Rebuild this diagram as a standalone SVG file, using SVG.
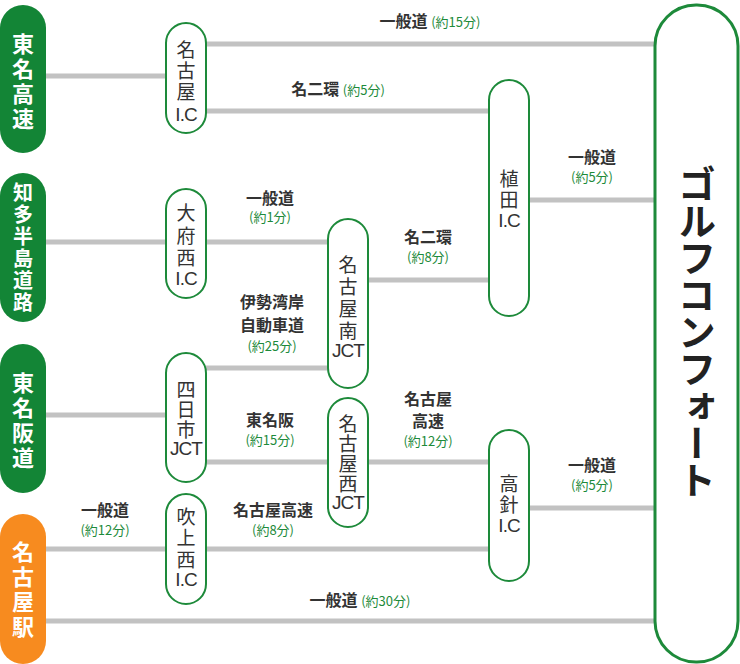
<svg xmlns="http://www.w3.org/2000/svg" width="740" height="664" viewBox="0 0 740 664">
<style>
.ln{stroke:#c2c2c2;stroke-width:5;fill:none}
.st{fill:#138536}
.or{fill:#f78b1f}
.lt{fill:#fff;font:bold 22px "Noto Sans CJK JP","Liberation Sans",sans-serif;text-anchor:middle}
.lt2{fill:#fff;font:bold 20px "Noto Sans CJK JP","Liberation Sans",sans-serif;text-anchor:middle}
.nd{fill:#fff;stroke:#1d8a3a;stroke-width:2}
.nt{fill:#333;font:19px "Noto Sans CJK JP","Liberation Sans",sans-serif;text-anchor:middle}
.ic{fill:#333;font:19px "Liberation Sans",sans-serif;text-anchor:middle;letter-spacing:-1px}
.lb{fill:#333;font:bold 16px "Noto Sans CJK JP",sans-serif;text-anchor:middle}
.tm{fill:#1d8a3a;font:13px "Noto Sans CJK JP",sans-serif;text-anchor:middle}
</style>
<rect width="740" height="664" fill="#fff"/>
<g id="connectors">
<path class="ln" d="M45 76H166M206 44H655M206 111H489M529 200H655M45 242H166M206 242H328M368 280H489M206 368H328M45 415H166M206 462H328M368 462H489M529 508H655M45 549H166M206 549H489M45 621H655"/>
</g>
<g id="labels">
<text class="lb" x="430" y="27">一般道 <tspan class="tm">(約15分)</tspan></text>
<text class="lb" x="338" y="95">名二環 <tspan class="tm">(約5分)</tspan></text>
<text class="lb" x="592" y="163">一般道</text><text class="tm" x="592" y="182">(約5分)</text>
<text class="lb" x="270" y="204">一般道</text><text class="tm" x="270" y="222">(約1分)</text>
<text class="lb" x="428" y="243">名二環</text><text class="tm" x="428" y="262">(約8分)</text>
<text class="lb" x="272" y="308">伊勢湾岸</text><text class="lb" x="272" y="331">自動車道</text><text class="tm" x="272" y="351">(約25分)</text>
<text class="lb" x="270" y="426">東名阪</text><text class="tm" x="270" y="445">(約15分)</text>
<text class="lb" x="428" y="405">名古屋</text><text class="lb" x="428" y="427">高速</text><text class="tm" x="428" y="446">(約12分)</text>
<text class="lb" x="592" y="471">一般道</text><text class="tm" x="592" y="490">(約5分)</text>
<text class="lb" x="105" y="516">一般道</text><text class="tm" x="105" y="535">(約12分)</text>
<text class="lb" x="273" y="516">名古屋高速</text><text class="tm" x="273" y="535">(約8分)</text>
<text class="lb" x="360" y="606">一般道 <tspan class="tm">(約30分)</tspan></text>
</g>
<g id="tomei"><rect class="st" x="0" y="5" width="46" height="148" rx="23"/>
<text class="lt" x="23" y="52">東</text><text class="lt" x="23" y="77">名</text><text class="lt" x="23" y="102">高</text><text class="lt" x="23" y="127">速</text></g>
<g id="chita"><rect class="st" x="0" y="173" width="46" height="149" rx="23"/>
<text class="lt2" x="23" y="200">知</text><text class="lt2" x="23" y="222">多</text><text class="lt2" x="23" y="244">半</text><text class="lt2" x="23" y="266">島</text><text class="lt2" x="23" y="288">道</text><text class="lt2" x="23" y="310">路</text></g>
<g id="tomeihan"><rect class="st" x="0" y="344" width="46" height="149" rx="23"/>
<text class="lt" x="23" y="391">東</text><text class="lt" x="23" y="416">名</text><text class="lt" x="23" y="441">阪</text><text class="lt" x="23" y="466">道</text></g>
<g id="nagoyaeki"><rect class="or" x="0" y="514" width="46" height="150" rx="23"/>
<text class="lt" x="23" y="560">名</text><text class="lt" x="23" y="585">古</text><text class="lt" x="23" y="610">屋</text><text class="lt" x="23" y="635">駅</text></g>
<g id="nagoya-ic"><rect class="nd" x="166" y="23" width="40" height="110" rx="20"/>
<text class="nt" x="186" y="57">名</text><text class="nt" x="186" y="78">古</text><text class="nt" x="186" y="99">屋</text><text class="ic" x="186" y="121">I.C</text></g>
<g id="obunishi-ic"><rect class="nd" x="166" y="189" width="40" height="109" rx="20"/>
<text class="nt" x="186" y="220">大</text><text class="nt" x="186" y="243">府</text><text class="nt" x="186" y="265">西</text><text class="ic" x="186" y="285">I.C</text></g>
<g id="nagoyaminami-jct"><rect class="nd" x="328" y="219" width="40" height="169" rx="20"/>
<text class="nt" x="348" y="272">名</text><text class="nt" x="348" y="294">古</text><text class="nt" x="348" y="316">屋</text><text class="nt" x="348" y="338">南</text><text class="ic" x="348" y="357">JCT</text></g>
<g id="yokkaichi-jct"><rect class="nd" x="166" y="353" width="40" height="129" rx="20"/>
<text class="nt" x="186" y="397">四</text><text class="nt" x="186" y="417">日</text><text class="nt" x="186" y="437">市</text><text class="ic" x="186" y="455">JCT</text></g>
<g id="nagoyanishi-jct"><rect class="nd" x="328" y="398" width="40" height="129" rx="20"/>
<text class="nt" x="348" y="431">名</text><text class="nt" x="348" y="451">古</text><text class="nt" x="348" y="471">屋</text><text class="nt" x="348" y="491">西</text><text class="ic" x="348" y="509">JCT</text></g>
<g id="fukiagenishi-ic"><rect class="nd" x="166" y="494" width="40" height="110" rx="20"/>
<text class="nt" x="186" y="524">吹</text><text class="nt" x="186" y="545">上</text><text class="nt" x="186" y="567">西</text><text class="ic" x="186" y="586">I.C</text></g>
<g id="ueda-ic"><rect class="nd" x="489" y="80" width="40" height="236" rx="20"/>
<text class="nt" x="509" y="186">植</text><text class="nt" x="509" y="207">田</text><text class="ic" x="509" y="227">I.C</text></g>
<g id="takabari-ic"><rect class="nd" x="489" y="430" width="40" height="151" rx="20"/>
<text class="nt" x="509" y="491">高</text><text class="nt" x="509" y="512">針</text><text class="ic" x="509" y="532">I.C</text></g>
<g id="golf"><rect x="655" y="5" width="83" height="657" rx="41" fill="#fff" stroke="#1d8a3a" stroke-width="3"/>
<text x="697" y="165" writing-mode="tb" style="fill:#222;font:bold 38px 'Noto Sans CJK JP',sans-serif;letter-spacing:-1px">ゴルフコンフォート</text></g>
</svg>
